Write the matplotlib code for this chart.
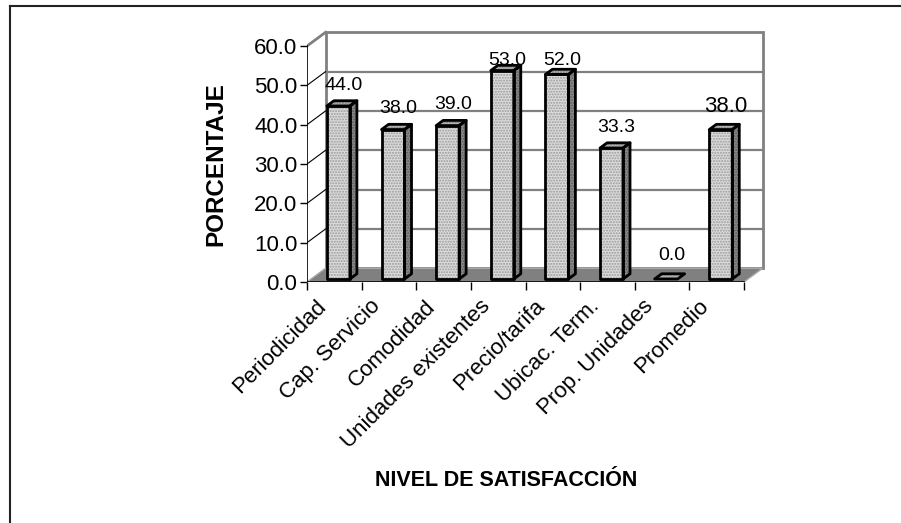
import matplotlib.pyplot as plt
from matplotlib.patches import Polygon
from matplotlib.lines import Line2D
from matplotlib.transforms import ScaledTranslation

plt.rcParams['font.family'] = ['Liberation Sans', 'DejaVu Sans']
plt.rcParams['hatch.linewidth'] = 1.0

categorias = ['Periodicidad', 'Cap. Servicio', 'Comodidad', 'Unidades existentes',
              'Precio/tarifa', 'Ubicac. Term.', 'Prop. Unidades', 'Promedio']
porcentaje = [44.0, 38.0, 39.0, 53.0, 52.0, 33.3, 0.0, 38.0]
yticks = [0, 10, 20, 30, 40, 50, 60]

# depth of the 3d box, in data units
DX = 0.339
DY = 3.48
# bars sit between these fractions of the depth
F0 = 0.22
F1 = 0.60
ANCHO = 0.42

fig = plt.figure(figsize=(9.01, 5.23), dpi=100)
W, H = 901, 523
x0px, y0px = 307, 282
pxx = 54.625
pxy = 3.933
xmax, ymax = 8.4, 64
ax = fig.add_axes([x0px / W, (H - y0px) / H, xmax * pxx / W, ymax * pxy / H])
ax.set_xlim(0, xmax)
ax.set_ylim(0, ymax)
for s in ax.spines.values():
    s.set_visible(False)
ax.patch.set_alpha(0)

n = len(categorias)
gris = '#808080'

# back wall and its gridlines
ax.add_patch(Polygon([(DX, DY), (n + DX, DY), (n + DX, 60 + DY), (DX, 60 + DY)],
                     closed=True, facecolor='white', edgecolor=gris, lw=2, zorder=1))
for v in yticks[1:-1]:
    ax.plot([DX, n + DX], [v + DY, v + DY], color=gris, lw=1.6, zorder=1.5)
    ax.plot([0, DX], [v, v + DY], color='black', lw=0.8, zorder=1.5)
ax.plot([0, DX], [60, 60 + DY], color=gris, lw=2, zorder=1.5)

# floor
ax.add_patch(Polygon([(0, 0), (n, 0), (n + DX, DY), (DX, DY)], closed=True,
                     facecolor=gris, edgecolor='#a8a8a8', lw=1, zorder=2))
ax.plot([0, n], [0, 0], color='black', lw=1.2, zorder=2.5)
ax.plot([0, 0], [0, 60], color='black', lw=1.2, zorder=2.5)


def cara(puntos, color, punteado):
    ax.add_patch(Polygon(puntos, closed=True, facecolor=color, edgecolor=punteado,
                         hatch='......', lw=0, zorder=3))
    ax.add_patch(Polygon(puntos, closed=True, fill=False, edgecolor='black',
                         lw=2, joinstyle='round', zorder=3.2))


# labels are kept inside the chart area at the top
TOPE = 54.2
for i, v in enumerate(porcentaje):
    a = i + 0.5 - ANCHO / 2
    b = i + 0.5 + ANCHO / 2
    fx, fy = F0 * DX, F0 * DY
    bx, by = F1 * DX, F1 * DY
    if v > 0:
        cara([(a + fx, fy), (b + fx, fy), (b + fx, v + fy), (a + fx, v + fy)], '#dcdcdc', '#9a9a9a')
        cara([(b + fx, fy), (b + bx, by), (b + bx, v + by), (b + fx, v + fy)], '#8a8a8a', '#5a5a5a')
    cara([(a + fx, v + fy), (b + fx, v + fy), (b + bx, v + by), (a + bx, v + by)], '#b4b4b4', '#7a7a7a')
    tam = 16 if i == n - 1 else 14
    sep = 7 if v == 0 else 5
    ytxt = v + by
    if ytxt + sep / 0.72 / pxy > TOPE:
        ytxt, sep = TOPE, 0
    ax.annotate(f'{v:.1f}', (i + 0.5 + 0.5 * DX, ytxt), xytext=(0, sep),
                textcoords='offset points', ha='center', va='bottom', fontsize=tam, zorder=5)

# axes ticks and labels
ax.set_yticks(yticks)
ax.set_yticklabels([f'{v:.1f}' for v in yticks], fontsize=16)
ax.tick_params(axis='y', direction='out', length=5, width=1, pad=2)
ax.set_xticks(range(n + 1))
ax.set_xticklabels([])
ax.tick_params(axis='x', which='major', direction='out', length=6, width=1)
ax.set_xticks([i + 0.5 for i in range(n)], minor=True)
ax.set_xticklabels(categorias, minor=True, rotation=45, ha='right', va='top',
                   rotation_mode='anchor', fontsize=16)
ax.tick_params(axis='x', which='minor', length=0, pad=10)
desplaza = ScaledTranslation(-19 / 100, 0, fig.dpi_scale_trans)
for t in ax.get_xticklabels(minor=True):
    t.set_transform(t.get_transform() + desplaza)

fig.text(216 / W, 1 - 164 / H, 'PORCENTAJE', rotation=90, ha='center', va='center',
         fontsize=17.5, fontweight='bold')
fig.text(506 / W, 1 - 480 / H, 'NIVEL DE SATISFACCIÓN', ha='center', va='center',
         fontsize=15.5, fontweight='bold')

# chart frame (left and top edges)
fig.add_artist(Line2D([10 / W, 10 / W], [0, 1 - 6 / H], color='#222222', lw=1.5,
                      transform=fig.transFigure))
fig.add_artist(Line2D([10 / W, 1], [1 - 6 / H, 1 - 6 / H], color='#222222', lw=1.5,
                      transform=fig.transFigure))

fig.savefig('out.png', dpi=100)
